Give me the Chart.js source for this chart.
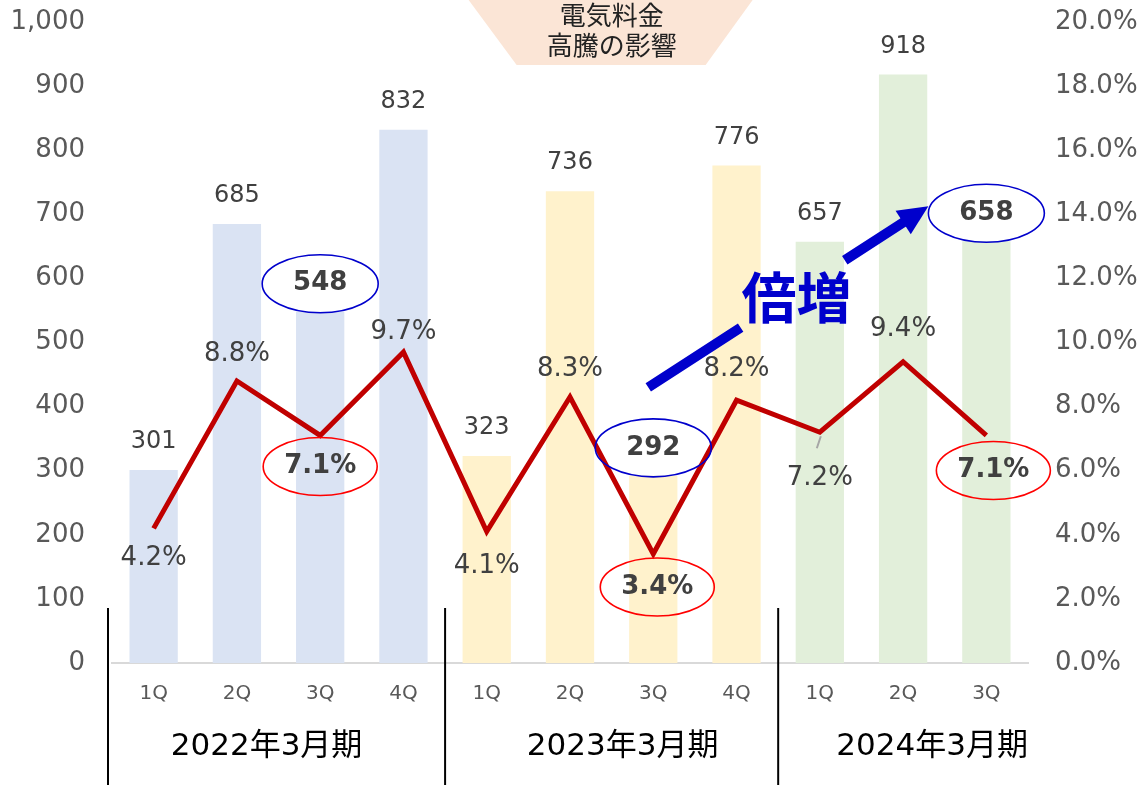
<!DOCTYPE html>
<html>
<head>
<meta charset="utf-8">
<script src="https://cdn.jsdelivr.net/npm/chart.js@4/dist/chart.umd.min.js"></script>
<style>
    html, body { margin: 0; padding: 0; background: #fff; }
    #wrap { width: 1142px; height: 785px; }
</style>
</head>
<body>
<div id="wrap"><canvas id="chart"></canvas></div>
<script>
const quarters = ["1Q", "2Q", "3Q", "4Q", "1Q", "2Q", "3Q", "4Q", "1Q", "2Q", "3Q"];
const periods = ["2022年3月期", "2023年3月期", "2024年3月期"];
const periodSizes = [4, 4, 3];
const sales = [301, 685, 548, 832, 323, 736, 292, 776, 657, 918, 658];
const margins = [4.2, 8.8, 7.1, 9.7, 4.1, 8.3, 3.4, 8.2, 7.2, 9.4, 7.1];
const barColors = [
    "#dae3f3", "#dae3f3", "#dae3f3", "#dae3f3",
    "#fff2cc", "#fff2cc", "#fff2cc", "#fff2cc",
    "#e2efda", "#e2efda", "#e2efda",
];
const highlighted = [2, 6, 10];
const bannerText = ["電気料金", "高騰の影響"];
const arrowText = "倍増";

const NUM_FONT = "'DejaVu Sans', Verdana, sans-serif";
const JP_FONT = "'DejaVu Sans', 'Noto Sans CJK JP', sans-serif";

// offsets of the margin labels from their points (dx, dy)
const lineLabelOffsets = [
    [0, 30], [0, -27], [0, 31], [0, -20], [0, 35], [0, -28],
    [4, 33], [0, -31], [0, 46], [0, -32], [7, 35],
];
// period label shifts from the middle of their quarters
const periodShift = [-12, 11, 29];

function ellipse(ctx, cx, cy, rx, ry, color) {
    ctx.save();
    ctx.beginPath();
    ctx.ellipse(cx, cy, rx, ry, 0, 0, Math.PI * 2);
    ctx.strokeStyle = color;
    ctx.lineWidth = 1.6;
    ctx.stroke();
    ctx.restore();
}

// keep tick labels from pushing the plot area inwards
function fitAxis(width) {
    return scale => {
        scale.width = width;
        scale.paddingTop = 0;
        scale.paddingBottom = 0;
    };
}

const overlay = {
    id: "overlay",
    afterDatasetsDraw(chart) {
        const ctx = chart.ctx;
        const x = chart.scales.x;
        const y1 = chart.scales.y1;
        const area = chart.chartArea;
        const bars = chart.getDatasetMeta(1).data;
        const points = chart.getDatasetMeta(0).data;

        // banner
        const bx = (x.getPixelForValue(5) + x.getPixelForValue(6)) / 2;
        ctx.save();
        ctx.fillStyle = "#fbe5d6";
        ctx.beginPath();
        ctx.moveTo(bx - 143, 0);
        ctx.lineTo(bx + 141, 0);
        ctx.lineTo(bx + 94, 65);
        ctx.lineTo(bx - 95, 65);
        ctx.closePath();
        ctx.fill();
        ctx.fillStyle = "#222";
        ctx.font = "26px 'Noto Sans CJK JP', sans-serif";
        ctx.textAlign = "center";
        ctx.textBaseline = "middle";
        ctx.fillText(bannerText[0], bx, 15);
        ctx.fillText(bannerText[1], bx, 45);
        ctx.restore();

        // bar value labels
        ctx.save();
        ctx.textAlign = "center";
        ctx.textBaseline = "middle";
        bars.forEach((bar, i) => {
            const hi = highlighted.includes(i);
            ctx.fillStyle = "#404040";
            ctx.font = (hi ? "bold 26px " : "24px ") + NUM_FONT;
            const ly = bar.y - 28;
            ctx.fillText(String(sales[i]), bar.x, ly);
            if (hi) ellipse(ctx, bar.x, ly, 58, 29, "#0000cc");
        });

        // margin labels
        points.forEach((pt, i) => {
            const hi = highlighted.includes(i);
            const [dx, dy] = lineLabelOffsets[i];
            ctx.fillStyle = "#404040";
            ctx.font = (hi ? "bold 26px " : "26px ") + NUM_FONT;
            ctx.fillText(margins[i].toFixed(1) + "%", pt.x + dx, pt.y + dy);
            if (hi) ellipse(ctx, pt.x + dx, pt.y + dy, 57, 29, "#ff0000");
        });

        // leader for 7.2%
        const p8 = points[8];
        ctx.strokeStyle = "#a6a6a6";
        ctx.lineWidth = 2;
        ctx.beginPath();
        ctx.moveTo(p8.x + 1, p8.y + 4);
        ctx.lineTo(p8.x - 3, p8.y + 16);
        ctx.stroke();
        ctx.restore();

        // arrow "倍増"
        const sx = x.getPixelForValue(6) - 5, sy = y1.getPixelForValue(8.6);
        const tx = bars[10].x - 58, ty = bars[10].y - 35;
        const len = Math.hypot(tx - sx, ty - sy);
        const ux = (tx - sx) / len, uy = (ty - sy) / len;
        ctx.save();
        ctx.strokeStyle = "#0000cc";
        ctx.fillStyle = "#0000cc";
        ctx.lineWidth = 10;
        ctx.beginPath();
        ctx.moveTo(sx, sy);
        ctx.lineTo(sx + ux * 110, sy + uy * 110);
        ctx.moveTo(sx + ux * 234, sy + uy * 234);
        ctx.lineTo(tx - ux * 22, ty - uy * 22);
        ctx.stroke();
        ctx.beginPath();
        ctx.moveTo(tx, ty);
        ctx.lineTo(tx - ux * 30 - uy * 14, ty - uy * 30 + ux * 14);
        ctx.lineTo(tx - ux * 30 + uy * 14, ty - uy * 30 - ux * 14);
        ctx.closePath();
        ctx.fill();
        ctx.font = "bold 55px 'Noto Sans CJK JP', sans-serif";
        ctx.textAlign = "center";
        ctx.textBaseline = "middle";
        ctx.fillText(arrowText, sx + ux * 173 + 3, sy + uy * 173 + 4);
        ctx.restore();

        // period separators and labels
        ctx.save();
        ctx.strokeStyle = "#000";
        ctx.lineWidth = 2;
        ctx.fillStyle = "#000";
        ctx.font = "31px " + JP_FONT;
        ctx.textAlign = "center";
        ctx.textBaseline = "middle";
        let start = 0;
        const step = x.getPixelForValue(1) - x.getPixelForValue(0);
        periods.forEach((label, k) => {
            const left = x.getPixelForValue(start) - step / 2 - (k === 0 ? 4 : 0);
            ctx.beginPath();
            ctx.moveTo(left, area.bottom - 55);
            ctx.lineTo(left, 785);
            ctx.stroke();
            const end = start + periodSizes[k] - 1;
            const mid = (x.getPixelForValue(start) + x.getPixelForValue(end)) / 2;
            ctx.fillText(label, mid + periodShift[k], area.bottom + 84);
            start += periodSizes[k];
        });
        ctx.restore();
    },
};

new Chart(document.getElementById("chart"), {
    data: {
        labels: quarters,
        datasets: [
            {
                type: "line",
                data: margins,
                yAxisID: "y1",
                borderColor: "#c00000",
                borderWidth: 5,
                pointRadius: 0,
                tension: 0,
                order: 0,
            },
            {
                type: "bar",
                data: sales,
                yAxisID: "y",
                backgroundColor: barColors,
                barPercentage: 0.58,
                categoryPercentage: 1.0,
                order: 1,
            },
        ],
    },
    options: {
        responsive: true,
        maintainAspectRatio: false,
        animation: false,
        layout: { padding: { top: 22, bottom: 0, left: 0, right: 0 } },
        plugins: {
            legend: { display: false },
            tooltip: { enabled: false },
        },
        scales: {
            x: {
                grid: { display: false, drawTicks: false },
                border: { color: "#d9d9d9", width: 2 },
                ticks: {
                    color: "#595959",
                    font: { family: NUM_FONT, size: 20 },
                    padding: 19,
                    maxRotation: 0,
                },
                afterFit: scale => { scale.height = 122; },
            },
            y: {
                position: "left",
                min: 0,
                max: 1000,
                grid: { display: false, drawTicks: false },
                border: { display: false },
                ticks: {
                    stepSize: 100,
                    color: "#595959",
                    font: { family: NUM_FONT, size: 26 },
                    padding: 27,
                    callback: v => v.toLocaleString("en-US"),
                },
                afterFit: fitAxis(112),
            },
            y1: {
                position: "right",
                min: 0,
                max: 20,
                grid: { display: false, drawTicks: false },
                border: { display: false },
                ticks: {
                    stepSize: 2,
                    color: "#595959",
                    font: { family: NUM_FONT, size: 26 },
                    padding: 27,
                    callback: v => v.toFixed(1) + "%",
                },
                afterFit: fitAxis(114),
            },
        },
    },
    plugins: [overlay],
});
</script>
</body>
</html>
